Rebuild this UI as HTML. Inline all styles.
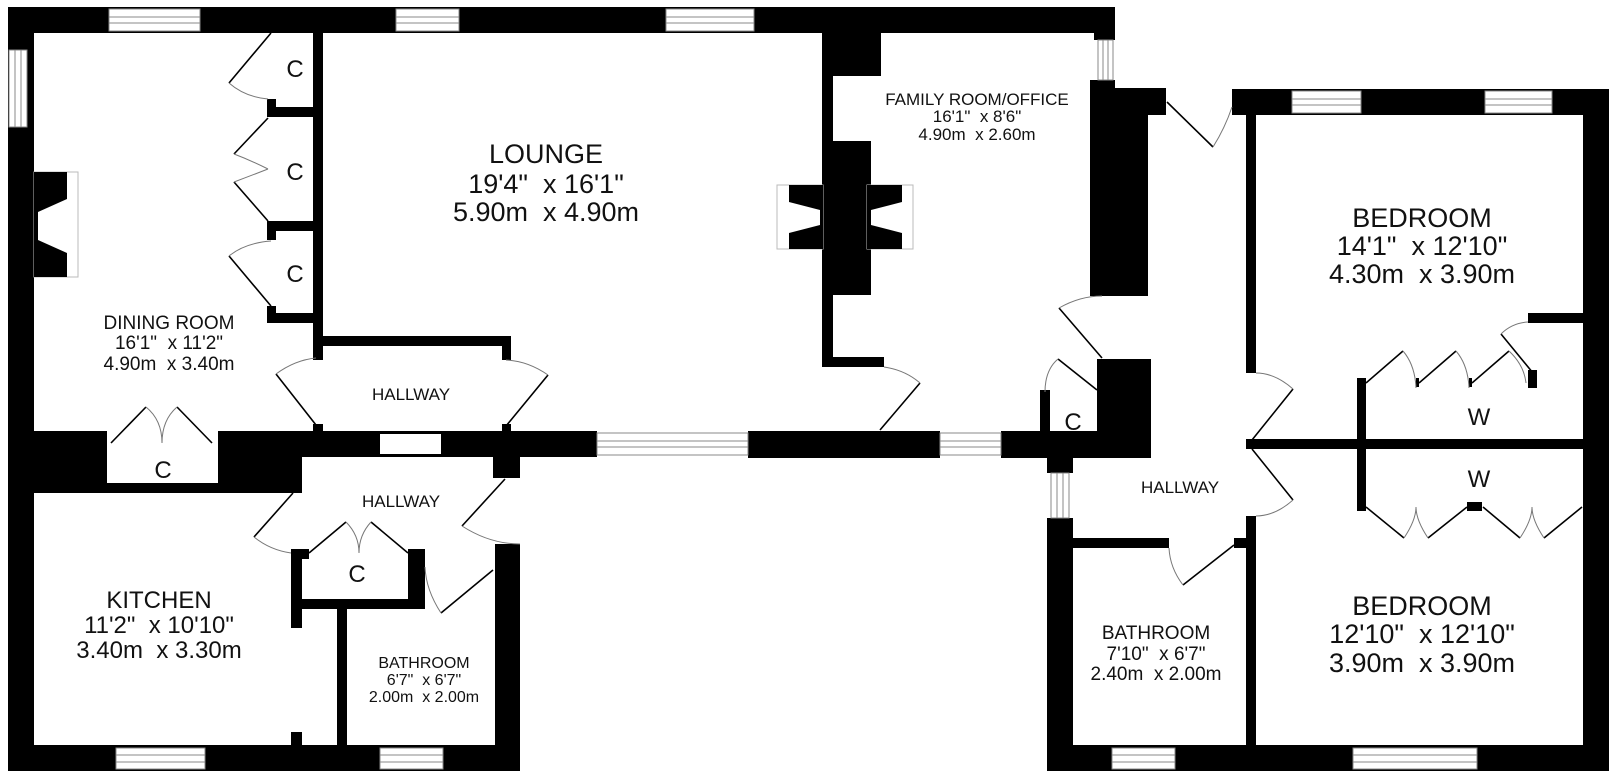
<!DOCTYPE html>
<html><head><meta charset="utf-8"><style>
html,body{margin:0;padding:0;background:#fff;}
svg{display:block;}
text{font-family:"Liberation Sans",sans-serif;fill:#111;text-anchor:middle;white-space:pre;}
</style></head><body>
<svg width="1616" height="776" viewBox="0 0 1616 776" xmlns="http://www.w3.org/2000/svg" xml:space="preserve">
<g fill="#000">
<rect x="8" y="7" width="1107" height="26"/>
<rect x="8" y="7" width="26" height="764"/>
<rect x="1094" y="7" width="21" height="33"/>
<rect x="8" y="745" width="512" height="26"/>
<rect x="495" y="544" width="25" height="227"/>
<rect x="313" y="33" width="10" height="327"/>
<rect x="267" y="107" width="46" height="10"/><rect x="267" y="99" width="9" height="18"/>
<rect x="267" y="221" width="46" height="10"/><rect x="267" y="221" width="9" height="19"/>
<rect x="267" y="313" width="46" height="10"/><rect x="267" y="306" width="9" height="17"/>
<rect x="313" y="336" width="198" height="10"/>
<rect x="502" y="336" width="9" height="24"/>
<rect x="313" y="424" width="10" height="8"/>
<rect x="502" y="424" width="9" height="8"/>
<rect x="8" y="431" width="99" height="62"/>
<rect x="107" y="483" width="111" height="10"/>
<rect x="218" y="431" width="84" height="62"/>
<rect x="302" y="431" width="295" height="26"/>
<rect x="493" y="457" width="27" height="21"/>
<rect x="748" y="431" width="192" height="27"/>
<rect x="1001" y="431" width="96" height="27"/>
<rect x="291" y="549" width="11" height="79"/>
<rect x="291" y="549" width="18" height="10"/>
<rect x="408" y="549" width="17" height="60"/>
<rect x="302" y="599" width="123" height="10"/>
<rect x="337" y="609" width="10" height="136"/>
<rect x="291" y="732" width="11" height="13"/>
<rect x="822" y="33" width="11" height="334"/>
<rect x="833" y="33" width="48" height="43"/>
<rect x="833" y="141" width="38" height="154"/>
<rect x="822" y="357" width="62" height="10"/>
<rect x="1090" y="88" width="58" height="208"/>
<rect x="1090" y="88" width="76" height="27"/>
<rect x="1090" y="80" width="25" height="8"/>
<rect x="1097" y="359" width="54" height="99"/>
<rect x="1040" y="390" width="10" height="41"/>
<rect x="1047" y="458" width="26" height="15"/>
<rect x="1047" y="518" width="26" height="253"/>
<rect x="1232" y="89" width="377" height="26"/>
<rect x="1583" y="89" width="26" height="682"/>
<rect x="1047" y="745" width="562" height="26"/>
<rect x="1246" y="115" width="10" height="258"/>
<rect x="1246" y="439" width="337" height="10"/>
<rect x="1357" y="378" width="9" height="133"/>
<rect x="1528" y="313" width="55" height="10"/>
<rect x="1528" y="370" width="9" height="18"/>
<rect x="1246" y="516" width="10" height="255"/>
<rect x="1073" y="538" width="96" height="10"/>
<rect x="1234" y="538" width="12" height="10"/>
<rect x="1467" y="502" width="15" height="9"/>
<rect x="1416" y="378" width="3" height="9"/>
<rect x="1469" y="378" width="3" height="9"/>
</g>
<rect x="380" y="434" width="61" height="20" fill="#fff"/>
<rect x="34" y="172" width="44" height="105" fill="none" stroke="#bbb" stroke-width="1"/>
<polygon points="34,172 67,172 67,199 38,212 38,240 67,253 67,277 34,277" fill="#000"/>
<rect x="777" y="185" width="46" height="64" fill="none" stroke="#bbb" stroke-width="1"/>
<polygon points="789,185 823,185 823,249 789,249 789,233 820,225 820,210 789,202" fill="#000"/>
<rect x="867" y="185" width="46" height="64" fill="none" stroke="#bbb" stroke-width="1"/>
<polygon points="867,185 902,185 902,202 871,210 871,225 902,233 902,249 867,249" fill="#000"/>
<g fill="#fff" stroke="#888" stroke-width="1">
<rect x="109" y="9" width="91" height="22"/><rect x="396" y="9" width="63" height="22"/><rect x="666" y="9" width="88" height="22"/>
<rect x="597" y="433" width="151" height="22"/><rect x="940" y="433" width="61" height="22"/>
<rect x="116" y="748" width="89" height="21"/><rect x="380" y="748" width="63" height="21"/>
<rect x="1292" y="91" width="69" height="22"/><rect x="1485" y="91" width="67" height="22"/>
<rect x="1112" y="748" width="63" height="21"/><rect x="1353" y="748" width="124" height="21"/>
<rect x="9" y="50" width="18" height="77"/>
<rect x="1098" y="40" width="15" height="40"/>
<rect x="1051" y="473" width="18" height="45"/>
</g>
<g stroke="#888" stroke-width="1">
<path d="M109 17H200M109 23H200M396 17H459M396 23H459M666 17H754M666 23H754M597 441H748M597 447H748M940 441H1001M940 447H1001M116 755H205M116 762H205M380 755H443M380 762H443M1292 99H1361M1292 105H1361M1485 99H1552M1485 105H1552M1112 755H1175M1112 762H1175M1353 755H1477M1353 762H1477M15 50V127M21 50V127M1103 40V80M1108 40V80M1057 473V518M1063 473V518"/>
</g>
<g fill="none" stroke="#000" stroke-width="1.6">
<path d="M271 33L229 83M268 118L234 154M268 221L234 182M271 306L229 256"/>
<path d="M316 425L276 374M506 426L548 375"/>
<path d="M111 443L146 407M212 443L177 407"/>
<path d="M293 493L254 537M505 479L462 526M493 570L441 613"/>
<path d="M309 553L346 522M408 553L371 522"/>
<path d="M880 430L920 383M1102 358L1059 308M1097 390L1058 359M1167 102L1213 147"/>
<path d="M1252 440L1293 389M1252 449L1293 500M1234 545L1183 585"/>
<path d="M1366 383L1403 351M1419 383L1456 351M1472 383L1509 351M1533 373L1501 334"/>
<path d="M1366 507L1404 538M1428 538L1467 507M1483 507L1520 538M1544 538L1582 507"/>
</g>
<g fill="none" stroke="#777" stroke-width="1">
<path d="M229 83Q245 97 268 99M234 154Q250 160 268 169M234 182Q250 176 268 169M229 256Q245 243 271 241"/>
<path d="M276 374Q295 360 316 358M548 375Q528 361 506 360"/>
<path d="M146 407Q162 420 162 443M177 407Q162 420 162 443"/>
<path d="M254 537Q270 550 291 553M462 526Q490 544 520 544M441 613Q426 590 425 567"/>
<path d="M346 522Q359 535 359 553M371 522Q359 535 359 553"/>
<path d="M884 367Q905 370 920 383M1059 308Q1080 296 1102 296M1058 359Q1045 370 1045 392M1213 147Q1225 128 1232 107"/>
<path d="M1293 389Q1275 373 1256 373M1293 500Q1275 516 1256 516M1183 585Q1170 568 1169 548"/>
<path d="M1403 351Q1415 365 1416 388M1456 351Q1468 365 1469 388M1509 351Q1524 365 1526 383M1501 334Q1512 323 1528 322"/>
<path d="M1404 538Q1416 520 1416 507Q1416 520 1428 538M1520 538Q1532 520 1532 507Q1532 520 1544 538"/>
</g>
<text x="546" y="163" font-size="27">LOUNGE</text>
<text x="546" y="193" font-size="27">19'4"  x 16'1"</text>
<text x="546" y="221" font-size="27">5.90m  x 4.90m</text>
<text x="169" y="329" font-size="19">DINING ROOM</text>
<text x="169" y="349" font-size="19">16'1"  x 11'2"</text>
<text x="169" y="370" font-size="19">4.90m  x 3.40m</text>
<text x="977" y="105" font-size="17">FAMILY ROOM/OFFICE</text>
<text x="977" y="122" font-size="17">16'1"  x 8'6"</text>
<text x="977" y="140" font-size="17">4.90m  x 2.60m</text>
<text x="411" y="400" font-size="17">HALLWAY</text>
<text x="401" y="507" font-size="17">HALLWAY</text>
<text x="1180" y="493" font-size="17">HALLWAY</text>
<text x="159" y="608" font-size="24">KITCHEN</text>
<text x="159" y="633" font-size="24">11'2"  x 10'10"</text>
<text x="159" y="658" font-size="24">3.40m  x 3.30m</text>
<text x="424" y="668" font-size="16">BATHROOM</text>
<text x="424" y="685" font-size="16">6'7"  x 6'7"</text>
<text x="424" y="702" font-size="16">2.00m  x 2.00m</text>
<text x="1156" y="639" font-size="19">BATHROOM</text>
<text x="1156" y="660" font-size="19">7'10"  x 6'7"</text>
<text x="1156" y="680" font-size="19">2.40m  x 2.00m</text>
<text x="1422" y="227" font-size="27">BEDROOM</text>
<text x="1422" y="255" font-size="27">14'1"  x 12'10"</text>
<text x="1422" y="283" font-size="27">4.30m  x 3.90m</text>
<text x="1422" y="615" font-size="27">BEDROOM</text>
<text x="1422" y="643" font-size="27">12'10"  x 12'10"</text>
<text x="1422" y="672" font-size="27">3.90m  x 3.90m</text>
<g font-size="24">
<text x="295" y="77">C</text><text x="295" y="180">C</text><text x="295" y="282">C</text>
<text x="163" y="478">C</text><text x="357" y="582">C</text><text x="1073" y="430">C</text>
<text x="1479" y="425">W</text><text x="1479" y="487">W</text>
</g>
</svg>
</body></html>
